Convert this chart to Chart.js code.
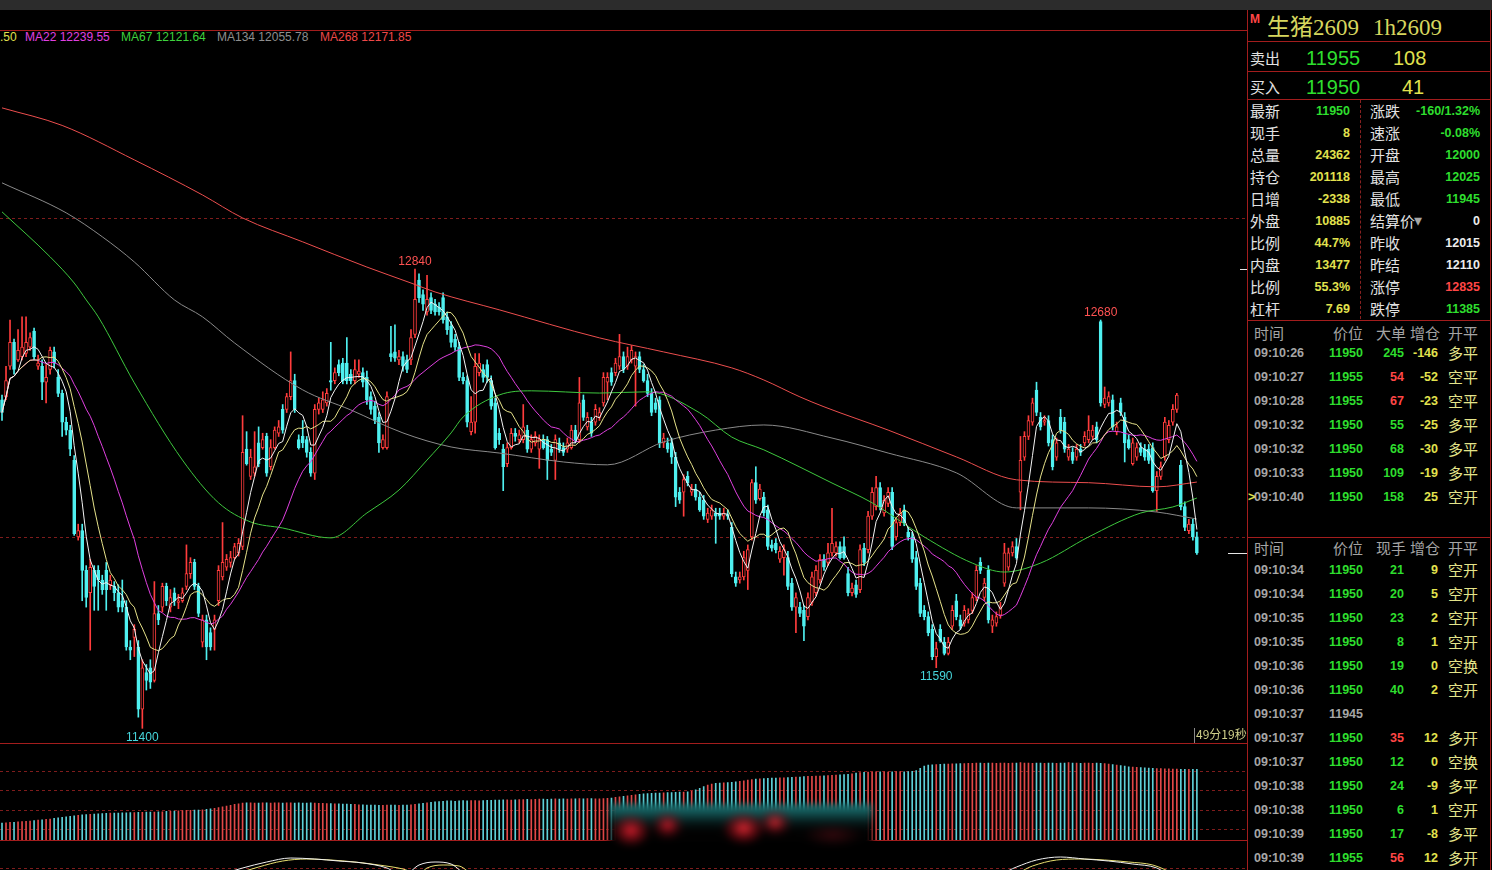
<!DOCTYPE html>
<html lang="zh-CN">
<head>
<meta charset="utf-8">
<title>生猪2609 1h2609</title>
<script src="https://cdn.jsdelivr.net/npm/chart.js@4.4.1/dist/chart.umd.min.js"></script>
<style>
  html, body { margin: 0; padding: 0; background: #000; }
  body { width: 1492px; height: 870px; position: relative; overflow: hidden; font-family: "Liberation Sans", Arial, sans-serif; }
  .abs { position: absolute; white-space: nowrap; }
  canvas { position: absolute; left: 0; }
  #topbar { left: 0; top: 0; width: 1492px; height: 10px; background: #2c2c2c; }
  .hl { position: absolute; height: 1px; background: #a31d1d; }
  .vl { position: absolute; width: 1px; background: #a31d1d; }
  .lbl { font: 15px/20px "Noto Sans CJK SC", sans-serif; color: #e2e2e2; }
  .hdr { font: 15px/20px "Noto Sans CJK SC", sans-serif; color: #a4a4a4; }
  .num { font: bold 12.5px/20px "Liberation Sans", Arial, sans-serif; }
  .big { font: 20px/24px "Liberation Sans", Arial, sans-serif; }
  .kp { font: 15px/20px "Noto Sans CJK SC", sans-serif; color: #e4e48a; }
  .g { color: #2ede2e; }
  .y { color: #e2e24e; }
  .w { color: #ececec; }
  .r { color: #ff4646; }
  .gr { color: #a6a6a6; }
  #legend { left: 0; top: 30px; font: 12px/14px "Liberation Sans", Arial, sans-serif; }
  #blur { left: 610px; top: 804px; width: 262px; height: 44px; filter: blur(3px);
    background:
      radial-gradient(ellipse 20px 17px at 8% 60%, rgba(215,30,45,0.95), rgba(150,15,25,0.55) 55%, transparent 100%),
      radial-gradient(ellipse 17px 15px at 22% 48%, rgba(205,25,40,0.9), rgba(120,10,20,0.4) 60%, transparent 100%),
      radial-gradient(ellipse 22px 17px at 51% 55%, rgba(225,40,50,0.95), rgba(130,10,20,0.55) 60%, transparent 100%),
      radial-gradient(ellipse 18px 15px at 63% 42%, rgba(215,35,45,0.9), rgba(110,10,20,0.4) 60%, transparent 100%),
      radial-gradient(ellipse 30px 12px at 85% 70%, rgba(60,10,15,0.8), transparent 100%),
      linear-gradient(to bottom, #1c7a7a 0, #125050 20%, #061818 42%, #020202 60%, #000 100%); }
</style>
</head>
<body>
<div id="topbar" class="abs"></div>
<div class="hl" style="left:0;top:30px;width:1247px;"></div>
<div id="legend" class="abs">
  <span class="abs" style="left:0;color:#e2e24e;">.50</span>
  <span class="abs" style="left:25px;color:#e040e0;">MA22 12239.55</span>
  <span class="abs" style="left:121px;color:#3ed23e;">MA67 12121.64</span>
  <span class="abs" style="left:217px;color:#8e8e8e;">MA134 12055.78</span>
  <span class="abs" style="left:320px;color:#ee4848;">MA268 12171.85</span>
</div>
<canvas id="mainChart" width="1247" height="712" style="top:31px;"></canvas>
<div class="hl" style="left:0;top:743px;width:1247px;"></div>
<canvas id="oiChart" width="1247" height="96" style="top:744px;"></canvas>
<div class="hl" style="left:0;top:840px;width:1247px;"></div>
<canvas id="macdChart" width="1247" height="29" style="top:841px;"></canvas>
<div id="blur" class="abs"></div>
<div class="abs" style="left:1194px;top:728px;height:15px;border-left:1px solid #8a8a8a;"></div>
<div class="abs" style="left:1196px;top:727px;font:12px/14px 'Noto Sans CJK SC',sans-serif;color:#cfcf8a;">49分19秒</div>
<div id="panel"></div>

<script>
/* ==========================================
   生猪2609 K线 + 持仓 + 行情面板
========================================== */

const RED = "#ff3c3c";
const CYAN = "#4ff0f0";
const LEVEL = "#7e1c1c";

// K线 (299 根)
const opens = [
  12430,12440,12535,12610,12555,12565,12575,12595,12645,12535,
  12535,12485,12525,12580,12500,12450,12360,12335,12240,12000,
  12020,11895,11825,11895,11895,11865,11895,11850,11845,11825,
  11800,11780,11655,11685,11655,11460,11575,11590,11550,11760,
  11780,11845,11780,11825,11795,11800,11845,11885,11920,11845,
  11670,11740,11700,11710,11800,11875,11905,11920,11935,11950,
  11970,12275,12190,12200,12295,12280,12315,12220,12280,12325,
  12400,12400,12440,12490,12305,12315,12305,12265,12200,12400,
  12400,12420,12490,12490,12540,12545,12545,12510,12490,12510,
  12515,12500,12440,12410,12375,12280,12280,12575,12580,12555,
  12565,12555,12555,12635,12805,12760,12705,12750,12730,12720,
  12750,12690,12660,12620,12595,12500,12490,12330,12360,12515,
  12525,12540,12490,12420,12325,12275,12230,12280,12325,12305,
  12305,12335,12275,12295,12275,12305,12305,12275,12240,12295,
  12280,12275,12280,12335,12305,12430,12345,12360,12360,12375,
  12420,12485,12515,12515,12535,12565,12535,12555,12535,12565,
  12525,12490,12450,12420,12430,12295,12295,12295,12250,12140,
  12140,12190,12140,12150,12125,12115,12055,12065,12075,12075,
  12065,12070,12030,11875,11865,11875,11895,12000,12170,12120,
  12125,12085,11975,11980,11930,11935,11935,11855,11780,11780,
  11770,11750,11795,11825,11865,11930,11920,11950,11950,11970,
  11970,11885,11825,11850,11835,11965,11960,12065,12095,12155,
  12075,12105,12140,12000,12045,12085,12015,12000,11935,11855,
  11770,11750,11710,11625,11710,11670,11635,11720,11800,11740,
  11730,11740,11770,11810,11920,11810,11895,11720,11730,11755,
  11855,11905,11950,11970,12140,12250,12315,12360,12460,12375,
  12360,12365,12305,12250,12375,12360,12250,12265,12250,12275,
  12295,12305,12315,12345,12675,12415,12420,12430,12330,12420,
  12375,12305,12230,12250,12280,12275,12275,12280,12145,12190,
  12250,12305,12360,12400,12225,12095,12020,12040,12000
];
const highs = [
  12445,12535,12680,12620,12650,12690,12690,12640,12655,12570,
  12555,12540,12595,12595,12525,12460,12375,12350,12255,12040,
  12040,11910,11930,11910,11910,11880,11920,11880,11860,11850,
  11865,11800,11675,11725,11675,11615,11600,11615,11860,11785,
  11855,11855,11835,11840,11820,11840,11975,11935,11930,11855,
  11755,11755,11715,11755,11910,12045,11945,11955,11980,11995,
  12380,12330,12275,12330,12345,12325,12325,12305,12345,12365,
  12415,12450,12580,12510,12320,12365,12315,12280,12415,12435,
  12455,12465,12610,12530,12555,12560,12625,12525,12555,12555,
  12530,12520,12455,12425,12390,12320,12455,12660,12665,12585,
  12580,12570,12650,12840,12825,12775,12820,12765,12745,12735,
  12765,12705,12675,12635,12610,12515,12505,12440,12575,12575,
  12540,12555,12505,12435,12340,12290,12295,12340,12340,12335,
  12415,12350,12320,12330,12320,12320,12315,12290,12320,12310,
  12295,12310,12350,12350,12500,12445,12390,12375,12415,12405,
  12515,12515,12530,12560,12635,12580,12595,12600,12580,12580,
  12540,12510,12465,12435,12440,12325,12310,12310,12265,12155,
  12195,12205,12165,12165,12140,12130,12090,12100,12090,12090,
  12090,12085,12045,11890,11890,11955,11975,12180,12220,12165,
  12140,12100,11990,11995,11970,11975,11955,11870,11825,11795,
  11785,11825,11890,11910,11945,11945,11980,12090,11985,11985,
  12000,11905,11855,11865,11975,11980,12080,12155,12190,12170,
  12130,12155,12155,12060,12090,12100,12030,12015,11955,11870,
  11785,11765,11725,11670,11725,11685,11685,11785,11820,11755,
  11785,11775,11825,11910,11935,11870,11910,11755,11765,11795,
  11980,11965,11985,11995,12315,12330,12380,12435,12485,12390,
  12380,12380,12320,12310,12400,12375,12290,12280,12290,12290,
  12330,12380,12350,12360,12680,12470,12455,12445,12360,12435,
  12390,12320,12310,12295,12295,12290,12290,12295,12205,12235,
  12375,12365,12415,12450,12240,12110,12055,12055,12015
];
const lows = [
  12365,12430,12525,12510,12550,12555,12565,12585,12555,12525,
  12430,12420,12510,12530,12440,12315,12320,12255,12005,11990,
  11800,11780,11645,11770,11770,11820,11770,11835,11800,11765,
  11765,11645,11615,11625,11435,11400,11520,11525,11545,11725,
  11765,11785,11765,11785,11775,11795,11835,11870,11835,11750,
  11655,11615,11645,11645,11785,11865,11895,11905,11930,11940,
  11960,12225,12180,12190,12220,12275,12190,12210,12275,12315,
  12325,12390,12430,12390,12275,12280,12250,12190,12180,12385,
  12390,12410,12460,12480,12505,12480,12480,12480,12480,12500,
  12470,12415,12385,12355,12265,12275,12275,12550,12550,12540,
  12520,12515,12540,12625,12735,12710,12695,12700,12695,12695,
  12670,12635,12595,12585,12490,12480,12345,12320,12325,12505,
  12485,12485,12400,12275,12290,12145,12220,12275,12300,12295,
  12295,12265,12265,12285,12215,12275,12180,12255,12180,12265,
  12255,12265,12275,12295,12295,12365,12335,12315,12350,12365,
  12410,12430,12475,12505,12525,12515,12525,12545,12410,12515,
  12485,12440,12380,12390,12280,12280,12265,12230,12095,12105,
  12065,12160,12130,12115,12080,12055,12045,12055,11980,12055,
  12055,12055,11875,11845,11855,11865,11835,11990,12105,12115,
  12065,11960,11955,11950,11920,11880,11835,11770,11700,11750,
  11675,11740,11785,11815,11855,11895,11910,11940,11940,11930,
  11930,11815,11815,11810,11825,11910,11950,12055,12085,12085,
  12065,12095,11960,11990,12035,12035,11990,11920,11835,11750,
  11740,11690,11615,11590,11670,11630,11630,11710,11740,11710,
  11720,11730,11760,11800,11885,11800,11730,11700,11720,11745,
  11845,11895,11940,11930,12085,12240,12305,12350,12380,12335,
  12350,12285,12210,12240,12325,12265,12240,12230,12240,12255,
  12285,12295,12305,12295,12410,12405,12410,12335,12320,12380,
  12235,12275,12225,12240,12255,12240,12230,12140,12080,12180,
  12240,12295,12350,12390,12085,12020,12010,11990,11945
];
const closes = [
  12390,12490,12610,12525,12585,12595,12610,12625,12565,12545,
  12485,12500,12585,12545,12450,12360,12335,12275,12010,12020,
  11895,11810,11905,11845,11865,11835,11835,11865,11825,11780,
  11780,11655,11645,11710,11460,11590,11550,11545,11760,11740,
  11845,11800,11810,11800,11800,11825,11885,11920,11845,11760,
  11740,11655,11655,11740,11895,11920,11930,11935,11970,11980,
  12265,12230,12250,12220,12230,12305,12200,12280,12335,12345,
  12335,12440,12490,12400,12280,12295,12265,12200,12400,12420,
  12430,12450,12485,12515,12515,12490,12490,12490,12525,12520,
  12485,12430,12400,12365,12295,12305,12440,12565,12560,12565,
  12535,12525,12625,12745,12750,12730,12745,12710,12705,12705,
  12680,12650,12610,12595,12500,12490,12360,12360,12535,12545,
  12500,12500,12410,12280,12305,12220,12280,12325,12315,12320,
  12345,12275,12305,12315,12305,12280,12240,12265,12305,12275,
  12265,12295,12335,12305,12420,12375,12375,12325,12400,12390,
  12500,12500,12485,12545,12565,12525,12565,12585,12565,12525,
  12490,12450,12390,12400,12295,12310,12275,12250,12125,12115,
  12180,12170,12150,12125,12085,12065,12075,12085,12065,12065,
  12075,12065,11885,11855,11875,11935,11960,12170,12115,12150,
  12075,11970,11965,11960,11955,11960,11845,11780,11810,11760,
  11720,11810,11875,11895,11930,11905,11950,11980,11970,11935,
  11935,11825,11840,11820,11960,11920,12065,12140,12155,12095,
  12115,12140,11970,12045,12075,12045,12000,11930,11845,11760,
  11750,11700,11625,11650,11675,11635,11670,11770,11750,11720,
  11770,11760,11810,11895,11895,11855,11740,11740,11750,11780,
  11950,11950,11970,11935,12240,12315,12365,12420,12390,12345,
  12365,12295,12220,12295,12335,12275,12275,12240,12275,12265,
  12315,12335,12335,12305,12420,12435,12440,12345,12345,12390,
  12295,12280,12295,12280,12265,12250,12240,12145,12190,12220,
  12360,12350,12400,12445,12095,12030,12040,12000,11950
];

// 持仓量 (每根K线)
const openInterest = [
  191150,191200,191260,191300,191350,191400,191450,191500,191600,191700,
  191750,191850,191900,192000,192100,192200,192300,192400,192500,192600,
  192650,192700,192750,192800,192850,192900,192950,193000,193000,193000,
  193050,193050,193100,193100,193150,193150,193200,193200,193200,193250,
  193250,193300,193300,193350,193400,193450,193500,193500,193550,193550,
  193600,193700,193800,193900,194000,194150,194300,194450,194600,194700,
  194850,194900,194900,194850,194850,194900,194900,194850,194900,194900,
  194850,194900,194900,194850,194900,194850,194850,194900,194850,194800,
  194800,194750,194750,194700,194700,194650,194650,194600,194600,194550,
  194550,194500,194500,194500,194450,194450,194500,194500,194500,194450,
  194500,194500,194550,194600,194700,194800,194900,195000,195100,195150,
  195200,195250,195250,195200,195250,195300,195250,195300,195300,195250,
  195300,195350,195350,195400,195400,195450,195450,195400,195450,195500,
  195500,195550,195500,195550,195600,195600,195550,195600,195650,195600,
  195650,195600,195650,195650,195700,195650,195700,195700,195650,195650,
  195700,195750,195800,195900,196000,196100,196200,196300,196400,196500,
  196550,196600,196650,196700,196700,196750,196800,196800,196850,196900,
  196900,196950,197100,197300,197600,197900,198200,198400,198500,198550,
  198600,198650,198700,198800,198900,199000,199100,199200,199300,199350,
  199400,199450,199500,199500,199550,199550,199600,199650,199700,199700,
  199750,199800,199800,199850,199850,199900,199950,200000,200050,200100,
  200150,200200,200300,200400,200500,200550,200600,200600,200650,200650,
  200650,200600,200650,200700,200700,200650,200700,200750,200900,201300,
  201700,201900,201950,202000,202050,202100,202100,202150,202150,202200,
  202200,202250,202250,202300,202300,202250,202300,202300,202250,202300,
  202300,202250,202300,202300,202350,202300,202300,202250,202300,202300,
  202250,202300,202300,202250,202300,202300,202350,202300,202300,202250,
  202300,202300,202250,202300,202250,202200,202100,202000,201900,201800,
  201700,201600,201550,201500,201450,201400,201350,201300,201250,201250,
  201200,201200,201150,201150,201100,201100,201100,201100,201118
];

// 长周期均线读数 [K线序号, 价格]
const ma67Points = [[0,13019],[12,12878],[18,12796],[21,12743],[24,12690],[33,12483],[45,12241],[54,12107],[62,12047],[70,12028],[82,11997],[91,12075],[99,12147],[106,12241],[112,12326],[115,12376],[124,12445],[132,12458],[149,12451],[161,12455],[174,12389],[182,12313],[190,12273],[199,12219],[207,12169],[217,12107],[230,12000],[242,11918],[250,11890],[259,11918],[271,12000],[284,12075],[292,12094],[298,12122]];
const ma134Points = [[0,13110],[16,13016],[25,12941],[33,12862],[43,12743],[50,12690],[58,12608],[75,12461],[87,12398],[100,12326],[112,12282],[124,12263],[140,12235],[151,12226],[165,12298],[178,12335],[190,12351],[207,12310],[221,12263],[238,12201],[253,12091],[271,12091],[288,12078],[298,12056]];
const ma268Points = [[0,13345],[15,13290],[33,13182],[50,13072],[60,13000],[75,12925],[91,12846],[102,12796],[108,12768],[124,12712],[149,12624],[165,12580],[182,12530],[190,12492],[199,12439],[205,12408],[221,12335],[238,12251],[253,12179],[271,12170],[288,12157],[298,12172]];

// 副图指标线读数
const difPoints = [[50,-10],[60,2],[66,8],[72,12],[78,11],[84,9],[90,7],[96,2],[100,-6],[104,5],[108,8],[112,6],[116,-4],[245,-10],[253,3],[258,10],[264,13],[270,11],[276,9],[282,6],[288,2],[292,-8]];
const deaPoints = [[55,-8],[64,3],[70,9],[76,11],[82,10],[88,8],[94,5],[100,1],[104,-4],[106,2],[110,5],[114,4],[118,-5],[250,-8],[257,4],[263,10],[269,11],[275,10],[281,8],[287,5],[293,-5]];

const priceLevels = [12000, 13000];
const oiLevels = [190000, 193600, 197200, 200800];
const macdLevels = [2];
const markers = [
  { index: 103, side: "high" },
  { index: 35, side: "low" },
  { index: 233, side: "low" },
  { index: 274, side: "high" },
];

const SLOTS = 311;
const slotLabels = Array.from({ length: SLOTS }, (_, i) => String(i));

const isUp = (i) => closes[i] >= opens[i];

// 均线由收盘价计算
function movingAverage(values, n) {
  return values.map((_, i) => {
    const from = Math.max(0, i - n + 1);
    const win = values.slice(from, i + 1);
    return win.reduce((a, b) => a + b, 0) / win.length;
  });
}

const toXY = (pts) => pts.map(([i, v]) => ({ x: String(i), y: v }));

function lineSet(label, data, color, smooth) {
  return {
    type: "line", label, data, borderColor: color, borderWidth: 1,
    pointRadius: 0, spanGaps: true, tension: smooth ? 0.4 : 0,
    cubicInterpolationMode: smooth ? "monotone" : "default", order: 0,
  };
}

function levelPlugin(id, levels) {
  return {
    id,
    beforeDatasetsDraw(chart) {
      const { ctx, chartArea, scales } = chart;
      ctx.save();
      ctx.strokeStyle = LEVEL;
      ctx.lineWidth = 1;
      ctx.setLineDash([3, 3]);
      levels.forEach((v) => {
        const y = Math.round(scales.y.getPixelForValue(v)) + 0.5;
        ctx.beginPath();
        ctx.moveTo(chartArea.left, y);
        ctx.lineTo(chartArea.right, y);
        ctx.stroke();
      });
      ctx.restore();
    },
  };
}

const mainOverlay = {
  id: "mainOverlay",
  afterDatasetsDraw(chart) {
    const { ctx, chartArea, scales } = chart;
    ctx.save();
    ctx.font = "12px 'Liberation Sans', Arial, sans-serif";
    ctx.textAlign = "center";
    markers.forEach((m) => {
      const x = scales.x.getPixelForValue(m.index);
      if (m.side === "high") {
        ctx.fillStyle = "#ff5252";
        ctx.textBaseline = "bottom";
        ctx.fillText(String(highs[m.index]), x, scales.y.getPixelForValue(highs[m.index]) - 1);
      } else {
        ctx.fillStyle = "#46d6dc";
        ctx.textBaseline = "top";
        ctx.fillText(String(lows[m.index]), x, scales.y.getPixelForValue(lows[m.index]) + 3);
      }
    });
    ctx.fillStyle = "#e6e6e6";
    const last = closes.length - 1;
    ctx.fillRect(chartArea.right - 19, Math.round(scales.y.getPixelForValue(closes[last])), 19, 1);
    ctx.fillRect(chartArea.right - 7, Math.round(scales.y.getPixelForValue(Math.max(...highs))), 7, 1);
    ctx.restore();
  },
};

const baseOptions = (min, max) => ({
  responsive: false,
  animation: false,
  events: [],
  layout: { padding: 0 },
  plugins: { legend: { display: false }, tooltip: { enabled: false } },
  scales: {
    x: { display: false, offset: true, grid: { display: false } },
    y: { display: false, min, max },
  },
});

function renderMainChart() {
  const wicks = highs.map((h, i) => [lows[i], h]);
  const bodies = opens.map((o, i) => [o, closes[i]]);
  new Chart(document.getElementById("mainChart"), {
    type: "bar",
    data: {
      labels: slotLabels,
      datasets: [
        lineSet("MA5", movingAverage(closes, 5), "#f4f4f4", false),
        lineSet("MA10", movingAverage(closes, 10), "#e6e28a", false),
        lineSet("MA22", movingAverage(closes, 22), "#e040e0", false),
        lineSet("MA67", toXY(ma67Points), "#3ec83e", true),
        lineSet("MA134", toXY(ma134Points), "#8a8a8a", true),
        lineSet("MA268", toXY(ma268Points), "#ec4e4e", true),
        {
          label: "body", data: bodies, grouped: false, order: 1,
          barThickness: 3, minBarLength: 1, borderWidth: 1, borderSkipped: false,
          backgroundColor: (c) => (isUp(c.dataIndex) ? "#000" : CYAN),
          borderColor: (c) => (isUp(c.dataIndex) ? RED : CYAN),
        },
        {
          label: "wick", data: wicks, grouped: false, order: 2, barThickness: 1,
          backgroundColor: (c) => (isUp(c.dataIndex) ? RED : CYAN),
        },
      ],
    },
    options: baseOptions(11354, 13586),
    plugins: [levelPlugin("priceLevels", priceLevels), mainOverlay],
  });
}

function renderOiChart() {
  new Chart(document.getElementById("oiChart"), {
    type: "bar",
    data: {
      labels: slotLabels,
      datasets: [{
        label: "持仓", data: openInterest, barThickness: 1,
        backgroundColor: (c) => (isUp(c.dataIndex) ? "#e24848" : "#5ed0d8"),
      }],
    },
    options: baseOptions(188000, 205820),
    plugins: [levelPlugin("oiLevels", oiLevels)],
  });
}

function renderMacdChart() {
  new Chart(document.getElementById("macdChart"), {
    type: "line",
    data: {
      labels: slotLabels,
      datasets: [
        lineSet("DIF", toXY(difPoints), "#f0f0f0", true),
        lineSet("DEA", toXY(deaPoints), "#e6de6e", true),
      ],
    },
    options: baseOptions(0, 29),
    plugins: [levelPlugin("macdLevels", macdLevels)],
  });
}

/* ---------- 右侧行情面板 ---------- */

const quoteRows = [
  ["最新", "11950", "g", "涨跌", "-160/1.32%", "g"],
  ["现手", "8", "y", "速涨", "-0.08%", "g"],
  ["总量", "24362", "y", "开盘", "12000", "g"],
  ["持仓", "201118", "y", "最高", "12025", "g"],
  ["日增", "-2338", "y", "最低", "11945", "g"],
  ["外盘", "10885", "y", "结算价", "0", "w"],
  ["比例", "44.7%", "y", "昨收", "12015", "w"],
  ["内盘", "13477", "y", "昨结", "12110", "w"],
  ["比例", "55.3%", "y", "涨停", "12835", "r"],
  ["杠杆", "7.69", "y", "跌停", "11385", "g"],
];

const bigOrderRows = [
  ["09:10:26", "11950", "245", "g", "-146", "多平"],
  ["09:10:27", "11955", "54", "r", "-52", "空平"],
  ["09:10:28", "11955", "67", "r", "-23", "空平"],
  ["09:10:32", "11950", "55", "g", "-25", "多平"],
  ["09:10:32", "11950", "68", "g", "-30", "多平"],
  ["09:10:33", "11950", "109", "g", "-19", "多平"],
  ["09:10:40", "11950", "158", "g", "25", "空开"],
];

const tickRows = [
  ["09:10:34", "11950", "21", "g", "9", "空开"],
  ["09:10:34", "11950", "20", "g", "5", "空开"],
  ["09:10:35", "11950", "23", "g", "2", "空开"],
  ["09:10:35", "11950", "8", "g", "1", "空开"],
  ["09:10:36", "11950", "19", "g", "0", "空换"],
  ["09:10:36", "11950", "40", "g", "2", "空开"],
  ["09:10:37", "11945", "", "g", "", ""],
  ["09:10:37", "11950", "35", "r", "12", "多开"],
  ["09:10:37", "11950", "12", "g", "0", "空换"],
  ["09:10:38", "11950", "24", "g", "-9", "多平"],
  ["09:10:38", "11950", "6", "g", "1", "空开"],
  ["09:10:39", "11950", "17", "g", "-8", "多平"],
  ["09:10:39", "11955", "56", "r", "12", "多开"],
];

const panel = document.getElementById("panel");

function place(text, left, top, cls, width, align) {
  const el = document.createElement("div");
  el.className = "abs " + cls;
  el.textContent = text;
  el.style.left = left + "px";
  el.style.top = top + "px";
  if (width) {
    el.style.width = width + "px";
    el.style.textAlign = align || "left";
  }
  panel.appendChild(el);
  return el;
}

function line(cls, left, top, size) {
  const el = document.createElement("div");
  el.className = cls;
  el.style.left = left + "px";
  el.style.top = top + "px";
  if (cls === "hl") el.style.width = size + "px";
  else el.style.height = size + "px";
  panel.appendChild(el);
}

function renderFrame() {
  line("vl", 1247, 10, 860);
  line("vl", 1490, 10, 860);
  [41, 71, 99, 320, 537].forEach((y) => line("hl", 1247, y, 244));
  const dash = document.createElement("div");
  dash.className = "abs";
  dash.style.cssText = "left:1360px;top:100px;height:219px;border-left:1px dashed #8a2020;";
  panel.appendChild(dash);
}

function renderTitle() {
  place("M", 1250, 12, "r", 0).style.font = "bold 12px/14px 'Liberation Sans', Arial";
  const t = place("生猪2609", 1267, 13, "y");
  t.style.font = "23px/30px 'Liberation Serif', 'Noto Sans CJK SC', serif";
  t.style.color = "#d6d65e";
  const c = place("1h2609", 1373, 13, "y");
  c.style.font = "23px/30px 'Liberation Serif', 'Noto Sans CJK SC', serif";
  c.style.color = "#d6d65e";

  place("卖出", 1250, 48, "lbl");
  place("11955", 1306, 46, "big g");
  place("108", 1393, 46, "big y");
  place("买入", 1250, 77, "lbl");
  place("11950", 1306, 75, "big g");
  place("41", 1402, 75, "big y");
}

function renderQuotes() {
  quoteRows.forEach((row, k) => {
    const top = 101 + k * 22;
    place(row[0], 1250, top, "lbl");
    place(row[1], 1280, top, "num " + row[2], 70, "right");
    place(row[3], 1370, top, "lbl");
    place(row[4], 1400, top, "num " + row[5], 80, "right");
    if (row[3] === "结算价") place("▾", 1414, top, "gr");
  });
}

function renderTradeTable(headTop, rowTop, volHead, rows, marker) {
  place("时间", 1254, headTop, "hdr");
  place("价位", 1315, headTop, "hdr", 48, "right");
  place(volHead, 1376, headTop, "hdr");
  place("增仓", 1410, headTop, "hdr");
  place("开平", 1448, headTop, "hdr");
  rows.forEach((r, k) => {
    const top = rowTop + k * 24;
    place(r[0], 1254, top, "num gr");
    place(r[1], 1313, top, "num " + (r[2] ? "g" : "gr"), 50, "right");
    place(r[2], 1370, top, "num " + r[3], 34, "right");
    place(r[4], 1405, top, "num y", 33, "right");
    place(r[5], 1448, top, "kp");
  });
  if (marker) place(">", 1248, rowTop + (rows.length - 1) * 24, "num y");
}

renderMainChart();
renderOiChart();
renderMacdChart();
renderFrame();
renderTitle();
renderQuotes();
renderTradeTable(323, 343, "大单", bigOrderRows, true);
renderTradeTable(538, 560, "现手", tickRows, false);

/* ==========================================
   End File
========================================== */
</script>
</body>
</html>
